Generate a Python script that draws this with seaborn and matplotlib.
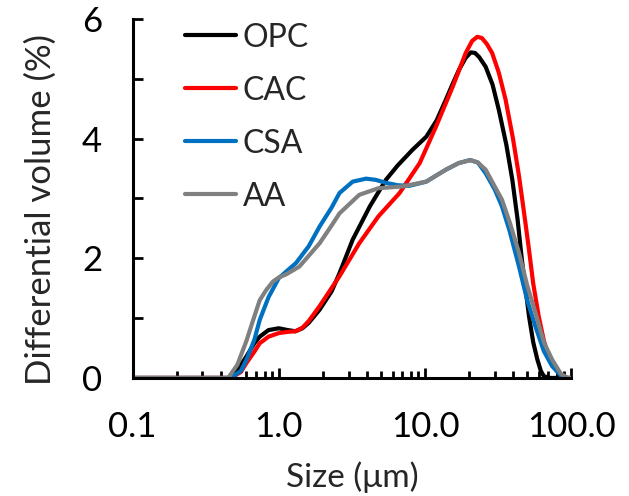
import numpy                 as np
import pandas                as pd
import seaborn               as sns
import matplotlib.pyplot     as plt

from matplotlib.ticker       import FixedLocator, MultipleLocator, LogLocator, NullFormatter


OPC_X = [0.1, 0.3, 0.45, 0.5, 0.6, 0.68, 0.74, 0.85, 1.0, 1.15, 1.3, 1.45, 1.6, 1.9, 2.3, 2.6,
         3.2, 4.2, 5.4, 6.5, 8.2, 10.2, 12, 13.9, 15.5, 17.1, 19, 20.6, 22, 23.5, 26, 29, 32, 36, 39.6,
         43, 46, 49, 51.5, 55, 58.7, 62, 65, 72, 100]
OPC_Y = [0, 0, 0, 0.06, 0.36, 0.58, 0.69, 0.80, 0.83, 0.80, 0.78, 0.83, 0.92, 1.14, 1.45, 1.75,
         2.31, 2.87, 3.31, 3.55, 3.81, 4.03, 4.30, 4.65, 4.92, 5.15, 5.35, 5.44, 5.43, 5.36, 5.20, 4.90, 4.48, 3.90, 3.31,
         2.65, 1.98, 1.45, 1.03, 0.60, 0.31, 0.12, 0.03, 0, 0]

CAC_X = [0.1, 0.3, 0.47, 0.55, 0.6, 0.68, 0.74, 0.85, 1.0, 1.15, 1.3, 1.45, 1.6, 1.9, 2.6, 3.55,
         4.8, 6.7, 9.2, 11.9, 15.5, 19, 21, 22.8, 24.5, 26.5, 28.8, 32, 35.6, 40, 44, 48, 51.5, 55, 60, 65, 70,
         80, 90, 100]
CAC_Y = [0, 0, 0, 0.10, 0.25, 0.44, 0.58, 0.69, 0.75, 0.77, 0.78, 0.84, 0.95, 1.20, 1.70, 2.25,
         2.70, 3.09, 3.59, 4.20, 4.87, 5.43, 5.63, 5.70, 5.68, 5.58, 5.43, 5.10, 4.65, 4.00, 3.37, 2.70, 2.14, 1.58, 1.03, 0.63, 0.36,
         0.12, 0.0, 0]

CSA_X = [0.1, 0.3, 0.47, 0.55, 0.6, 0.68, 0.74, 0.85, 1.0, 1.15, 1.31, 1.6, 1.9, 2.3, 2.6, 3.2,
         3.95, 4.6, 5.4, 6.5, 7.8, 10.2, 13.9, 17, 20.3, 23, 26, 30, 33.6, 38, 44, 50, 57, 65, 74,
         85, 95, 100]
CSA_Y = [0, 0, 0, 0.12, 0.30, 0.64, 0.97, 1.35, 1.67, 1.80, 1.92, 2.20, 2.53, 2.85, 3.09, 3.28,
         3.33, 3.31, 3.26, 3.22, 3.21, 3.28, 3.48, 3.59, 3.64, 3.60, 3.42, 3.15, 2.87, 2.45, 1.86, 1.30, 0.86, 0.45, 0.20,
         0.04, 0, 0]

AA_X  = [0.1, 0.3, 0.45, 0.52, 0.6, 0.68, 0.74, 0.82, 0.91, 1.0, 1.12, 1.38, 1.9, 2.3, 2.6, 3.55,
         4.8, 7, 10.2, 13.9, 17, 20.6, 23, 26, 30, 33.6, 38, 44, 50, 57, 65, 74, 85,
         95, 100]
AA_Y  = [0, 0, 0, 0.22, 0.62, 1.03, 1.30, 1.47, 1.61, 1.68, 1.73, 1.86, 2.25, 2.55, 2.75, 3.06,
         3.17, 3.20, 3.28, 3.48, 3.59, 3.64, 3.60, 3.48, 3.20, 2.98, 2.60, 2.09, 1.55, 1.09, 0.60, 0.31, 0.07,
         0.0, 0]

SERIES   = ["OPC", "CAC", "CSA", "AA"]
COLORS   = ["#000000", "#ff0000", "#0070c0", "#808080"]
X_TICKS  = [0.1, 1, 10, 100]
X_LABELS = ["0.1", "1.0", "10.0", "100.0"]
Y_TICKS  = [0, 2, 4, 6]


def build_frame():
    frames = []
    for name, xs, ys in zip(SERIES, [OPC_X, CAC_X, CSA_X, AA_X], [OPC_Y, CAC_Y, CSA_Y, AA_Y]):
        frames.append(pd.DataFrame({"size": xs, "volume": ys, "cement": name}))
    return pd.concat(frames, ignore_index=True)


def main():
    sns.set_style("white")
    plt.rcParams['font.family'] = ['Lato', 'DejaVu Sans']

    df = build_frame()

    fig = plt.figure(figsize=(6.29, 4.96), dpi=100)
    ax  = fig.add_axes([0.211, 0.238, 0.697, 0.724])

    sns.lineplot(
        data      =df,
        x         ="size",
        y         ="volume",
        hue       ="cement",
        hue_order =SERIES,
        palette   =COLORS,
        sort      =False,
        estimator =None,
        linewidth =3,
        ax        =ax
    )

    ax.set_xscale("log")
    ax.set_xlim(0.1, 100)
    ax.set_ylim(0, 6)

    ax.xaxis.set_major_locator(FixedLocator(X_TICKS))
    ax.set_xticklabels(X_LABELS)
    ax.xaxis.set_minor_locator(LogLocator(base=10, subs=np.arange(2, 10)))
    ax.xaxis.set_minor_formatter(NullFormatter())

    ax.yaxis.set_major_locator(FixedLocator(Y_TICKS))
    ax.yaxis.set_minor_locator(MultipleLocator(1))

    ax.tick_params(axis="both", which="both", direction="in", color="black",
                   bottom=True, left=True, width=2, labelsize=25, labelcolor="black")
    ax.tick_params(axis="x", which="major", length=7.5, pad=24)
    ax.tick_params(axis="x", which="minor", length=5)
    ax.tick_params(axis="y", which="both", length=7, pad=22)

    sns.despine(ax=ax)
    for side in ["left", "bottom"]:
        ax.spines[side].set_color("black")
        ax.spines[side].set_linewidth(2.2)

    ax.set_xlabel("Size (μm)", fontsize=24, labelpad=13)
    ax.set_ylabel("Differential volume (%)", fontsize=25)
    ax.yaxis.set_label_coords(-0.172, 0.468)

    ax.legend(
        loc           ="upper left",
        bbox_to_anchor=(0.09, 1.025),
        frameon       =False,
        fontsize      =23,
        handlelength  =1.6,
        handletextpad =0.2,
        labelspacing  =0.72,
        borderaxespad =0
    )

    fig.savefig("out.png", dpi=100)


if __name__ == '__main__':
    main()
